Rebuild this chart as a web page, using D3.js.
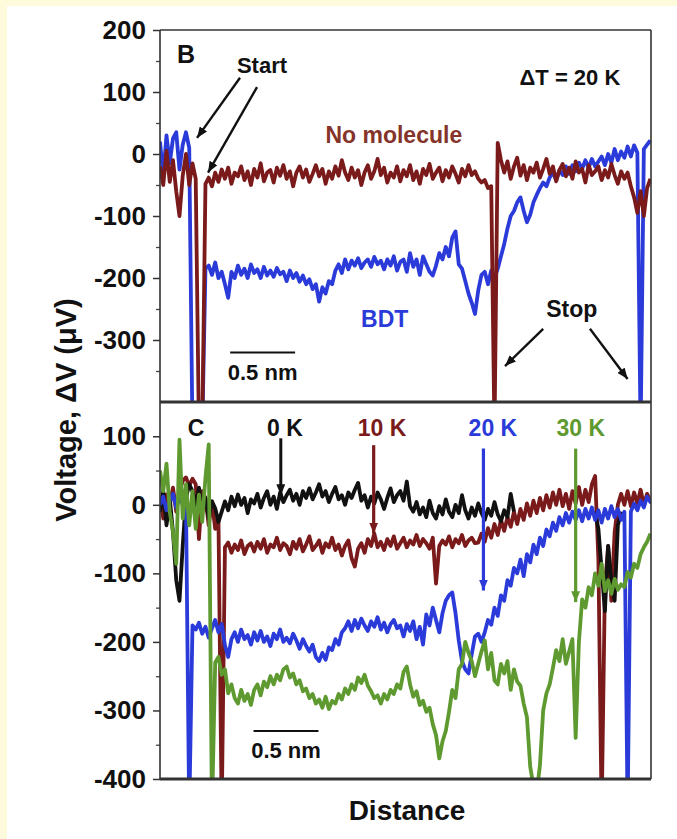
<!DOCTYPE html>
<html>
<head>
<meta charset="utf-8">
<script src="https://cdn.jsdelivr.net/npm/d3@7"></script>
<style>
  body { margin: 0; background: #ffffff; }
  svg { display: block; }
  text { font-family: "Liberation Sans", Arial, Helvetica, sans-serif; font-weight: bold; }
</style>
</head>
<body>
<svg id="chart" width="677" height="839"></svg>
<script>
// Thermoelectric voltage traces vs. tip displacement, sampled every 0.025 nm.
const sampleStep = 0.025; // nm

// Panel B: ΔT = 20 K
const bdtTrace = [
  20, -35, 30, -15, 25, 35, -25, 15, 35, 10,
  -450, -450, -450, -450, -185,
  -180, -195, -175, -200, -190, -210, -232, -190, -200, -180,
  -195, -185, -200, -178, -192, -186, -200, -182, -196, -188,
  -198, -184, -194, -190, -205, -188, -200, -192, -206, -196,
  -210, -202, -218, -210, -238, -215, -225, -205, -210, -188,
  -178, -192, -170, -186, -172, -180, -168, -184, -175, -170,
  -182, -166, -178, -172, -186, -170, -180, -165, -188, -174,
  -170, -190, -160, -182, -170, -195, -165, -178, -190, -196,
  -180, -160, -170, -150, -165, -135, -125, -178, -185, -205,
  -225, -240, -258, -220, -195, -190, -210, -188,
  -200, -185, -165, -145, -120, -100, -92, -78, -70, -92,
  -110, -98, -78, -66, -55, -46, -52, -38, -30, -42,
  -26, -34, -20, -32, -18, -28, -14, -24, -10, -22,
  -8, -20, -12, -4, -18, 0, -14, 8, -10, 4,
  -6, 12, -4, 14, 2,
  -450, 8, 15, 22
];
const noMoleculeTrace = [
  -20, -50, 5, -45, -10, -60, -100, -35, 0, -50, -15, -40,
  -450, -450, -48,
  -38, -52, -30, -45, -25, -40, -22, -48, -30, -36,
  -20, -42, -28, -50, -24, -38, -15, -44, -30, -26,
  -46, -22, -35, -18, -40, -28, -52, -30, -20, -38,
  -25, -45, -32, -18, -36, -24, -48, -28, -40, -20,
  -35, -10, -30, -42, -22, -38, -26, -50, -30, -18,
  -40, -28, -8, -34, -22, -46, -30, -38, -20, -44,
  -26, -36, -18, -42, -28, -48, -24, -34, -16, -40,
  -30, -22, -44, -26, -38, -20, -32, -46, -24, -36,
  -18, -34, -28, -40, -46, -42, -55, -52,
  -450, 18,
  -10, -30, -12, -40, -20, -6, -35, -18, -42, -22,
  -30, -14, -38, -24, -8, -32, -20, -44, -26, -16,
  -36, -22, -40, -12, -30, -24, -46, -18, -34, -28,
  -20, -42, -26, -38, -16, -34, -48, -28, -40, -30,
  -52, -70, -95, -60, -100, -55, -40
];

// Panel C: BDT at several temperature differences
const trace0K = [
  -10, 20, -30, 10, -40, -110, -140, -60, 10, 30,
  20, 0, 25, -10, 10, -20, 5, -5, -25, -10,
  5, -8, 12, -2, 15, 0, 10, -12, 8, 2,
  16, -4, 10, 20, 0, 12, -6, 18, 4, 14,
  22, 6, 16, 0, 20, 10, 24, 8, 18, 30,
  12, 20, 4, 16, 26, 8, 14, 0, 18, 10,
  22, 32, 6, 14, -4, 12, 2, 18, 8, -6,
  10, 24, 4, 14, 20, 6, 34, -2, -10, 4,
  -14, -4, -18, 6, -12, -20, -2, -14, 8, -10,
  -18, 0, -12, 14, -8, -20, -4, -16, 2, -12,
  -22, -6, -16, 4, -14, -24, -8, -18, 16, -10,
  null, null, null, null, null, null, null, null, null, null,
  null, null, null, null, null, null, null, null, null, null,
  null, null, null, null,
  -10, -35, -95, -155, -60, -110, -140, -30, -10
];
const trace10K = [
  10, -20, 15, 0, 25, -10, 20, 35, 40, 28,
  38, 30, -50, 20, 10, -30, 5, -35,
  -20, -450,
  -62, -55, -70, -58, -66, -52, -72, -60, -56, -68,
  -54, -64, -50, -70, -58, -62, -48, -66, -56, -60,
  -72, -54, -64, -50, -68, -58, -46, -66, -60, -52,
  -70, -56, -62, -48, -66, -58, -74, -60, -52, -78,
  -90, -64, -56, -70, -50, -60, -42, -62, -54, -66,
  -50, -60, -46, -64, -56, -48, -62, -52, -58, -44,
  -60, -50, -56, -64, -48, -115, -60, -52, -58, -46,
  -62, -50, -56, -44, -60, -52, -48, -56, -55, -42,
  -54, -34, -48, -28, -44, -22, -38, -18, -32, -10,
  -28, -6, -22, 2, -16, 6, -12, 10, -8, 14,
  -4, 18, 0, 22, -2, 16, -6, 20, 2, 26,
  0, 22, 4, 30, 42, -80,
  -450,
  -120, -60, -140, -40, 0, 16, 0, 20, -2, 18, 2, 22, 0, 16, 6
];
const trace20K = [
  0, 12, -8, 6, 16, -4, 10, 2, 4,
  -450,
  -176, -182, -172, -188, -178, -194, -180, -168, -186, -174,
  -205, -222, -196, -186, -200, -182, -196, -190, -204, -186,
  -198, -184, -200, -192, -206, -188, -196, -182, -200, -194,
  -202, -188, -198, -210, -196, -206, -214, -204, -222, -228,
  -216, -226, -208, -212, -196, -204, -186, -180, -170, -184,
  -168, -180, -166, -176, -184, -170, -178, -164, -182, -172,
  -186, -174, -168, -180, -176, -192, -174, -184, -170, -196,
  -178, -204, -160, -176, -150, -168, -186, -158, -140, -132,
  -128, -158, -198, -228, -240, -246, -218, -192, -188, -200,
  -186, -168, -175, -150, -162, -132, -140, -110, -118, -92,
  -100, -80, -104, -72, -84, -58, -72, -48, -60, -36,
  -46, -26, -38, -18, -30, -12, -26, -10, -22, -8,
  -24, -6, -20, -4, -22, -8, -26, -6, -20, -2,
  -18, -6, -22, -10,
  -450,
  -10, 2, -8, 6, -4, 12, 4, 10
];
const trace30K = [
  50, 20, 60, -10, -40, -86, 95, -20, 30, -30,
  20, -35, 15, -25, 40,
  88, -450, -230,
  -222, -248, -240, -275, -262, -282, -290, -270, -286, -276,
  -292, -270, -262, -278, -258, -266, -250, -262, -248, -256,
  -240, -236, -252, -246, -262, -256, -272, -268, -282, -276,
  -290, -284, -296, -280, -298, -286, -290, -276, -284, -268,
  -276, -262, -270, -252, -260, -248, -264, -272, -282, -278,
  -290, -276, -284, -270, -276, -262, -268, -244, -236, -262,
  -280, -272, -292, -286, -302, -296, -320, -336, -370, -345,
  -330, -302, -270, -282, -240, -232, -200, -216, -228, -250,
  -232, -214, -198, -240, -216, -256, -262, -232, -246, -228,
  -270, -240, -258, -264, -290, -310, -382, -410, -420, -380,
  -300, -275, -262, -238, -212, -228, -196, -232, -214, -196,
  -340,
  -200, -138, -150, -120, -132, -100, -118, -86, -126, -110,
  -130, -108, -124, -116, -120, -98, -106, -86, -92, -72, -62, -54, -42
];

const topMajorTicks = [200, 100, 0, -100, -200, -300];
const topMinorTicks = [150, 50, -50, -150, -250, -350];
const bottomMajorTicks = [100, 0, -100, -200, -300, -400];
const bottomMinorTicks = [50, -50, -150, -250, -350];

const colors = {
  black: "#111111",
  maroon: "#7a1a1a",
  maroonText: "#85342a",
  blue: "#2b3bd9",
  green: "#5e9a30"
};

const svg = d3.select("#chart");

// page frame
svg.append("rect").attr("x", 0).attr("y", 0).attr("width", 677).attr("height", 839).attr("fill", "#fdfbdc");
svg.append("rect").attr("x", 7).attr("y", 6).attr("width", 670).attr("height", 833).attr("fill", "#ffffff");

const x = d3.scaleLinear().domain([0, 3.78]).range([160, 651]);
const yTop = d3.scaleLinear().domain([-400, 200]).range([402, 30]);
const yBot = d3.scaleLinear().domain([-400, 150]).range([779, 402]);

const defs = svg.append("defs");
defs.append("clipPath").attr("id", "clipTop")
  .append("rect").attr("x", 160).attr("y", 30).attr("width", 491).attr("height", 372);
defs.append("clipPath").attr("id", "clipBot")
  .append("rect").attr("x", 160).attr("y", 402).attr("width", 491).attr("height", 377);

function arrowMarker(id, color, len, wid) {
  defs.append("marker").attr("id", id)
    .attr("viewBox", `0 0 ${len} ${wid}`)
    .attr("refX", len).attr("refY", wid / 2)
    .attr("markerWidth", len).attr("markerHeight", wid)
    .attr("markerUnits", "userSpaceOnUse")
    .attr("orient", "auto")
    .append("path").attr("d", `M0,0L${len},${wid / 2}L0,${wid}Z`).attr("fill", color);
}
arrowMarker("arrBlack", colors.black, 11, 9);
arrowMarker("arrMaroon", colors.maroon, 11, 9);
arrowMarker("arrBlue", colors.blue, 11, 9);
arrowMarker("arrGreen", colors.green, 11, 9);

function drawTrace(g, values, yScale, color, width) {
  const line = d3.line()
    .defined(d => d != null)
    .x((d, i) => x(i * sampleStep))
    .y(d => yScale(d));
  g.append("path")
    .datum(values)
    .attr("d", line)
    .attr("fill", "none")
    .attr("stroke", color)
    .attr("stroke-width", width)
    .attr("stroke-linejoin", "round");
}

// traces
const traceWidth = 3.8;
const gTop = svg.append("g").attr("clip-path", "url(#clipTop)");
drawTrace(gTop, bdtTrace, yTop, colors.blue, traceWidth);
drawTrace(gTop, noMoleculeTrace, yTop, colors.maroon, traceWidth);

const gBot = svg.append("g").attr("clip-path", "url(#clipBot)");
drawTrace(gBot, trace10K, yBot, colors.maroon, traceWidth);
drawTrace(gBot, trace0K, yBot, colors.black, traceWidth);
drawTrace(gBot, trace20K, yBot, colors.blue, traceWidth);
drawTrace(gBot, trace30K, yBot, colors.green, traceWidth);

// axes
const fmt = d => String(d);
function yAxis(scale, major, minor) {
  const gMaj = svg.append("g").attr("transform", "translate(160,0)")
    .call(d3.axisLeft(scale).tickValues(major).tickSize(7).tickPadding(7).tickFormat(fmt));
  gMaj.select(".domain").remove();
  gMaj.selectAll("line").attr("stroke", "#333").attr("stroke-width", 1.5);
  gMaj.selectAll("text").attr("font-size", 26).attr("fill", "#111");
  const gMin = svg.append("g").attr("transform", "translate(160,0)")
    .call(d3.axisLeft(scale).tickValues(minor).tickSize(4).tickFormat(""));
  gMin.select(".domain").remove();
  gMin.selectAll("line").attr("stroke", "#444").attr("stroke-width", 1.3);
}
yAxis(yTop, topMajorTicks, topMinorTicks);
yAxis(yBot, bottomMajorTicks, bottomMinorTicks);

// panel frames
const frame = svg.append("g").attr("fill", "none").attr("stroke", "#333");
frame.append("line").attr("x1", 160).attr("x2", 160).attr("y1", 30).attr("y2", 779).attr("stroke-width", 1.6);
frame.append("line").attr("x1", 651).attr("x2", 651).attr("y1", 30).attr("y2", 779).attr("stroke-width", 1.6);
frame.append("line").attr("x1", 160).attr("x2", 651).attr("y1", yTop(200)).attr("y2", yTop(200)).attr("stroke-width", 1.6);
frame.append("line").attr("x1", 160).attr("x2", 651).attr("y1", yTop(-400)).attr("y2", yTop(-400)).attr("stroke-width", 2.8);
frame.append("line").attr("x1", 160).attr("x2", 651).attr("y1", yBot(-400)).attr("y2", yBot(-400)).attr("stroke-width", 3);

// annotations
function label(txt, xv, yv, yScale, size, color) {
  svg.append("text")
    .attr("x", x(xv)).attr("y", yScale(yv))
    .attr("text-anchor", "middle").attr("dominant-baseline", "central")
    .attr("font-size", size).attr("fill", color).text(txt);
}
function arrow(x1, y1, x2, y2, yScale, color, marker, width) {
  svg.append("line")
    .attr("x1", x(x1)).attr("y1", yScale(y1))
    .attr("x2", x(x2)).attr("y2", yScale(y2))
    .attr("stroke", color).attr("stroke-width", width)
    .attr("marker-end", `url(#${marker})`);
}
function scaleBar(x0, len, yv, yScale) {
  svg.append("line")
    .attr("x1", x(x0)).attr("x2", x(x0 + len))
    .attr("y1", yScale(yv)).attr("y2", yScale(yv))
    .attr("stroke", colors.black).attr("stroke-width", 2);
}

// panel B
label("B", 0.2, 161, yTop, 25, colors.black);
label("Start", 0.785, 142, yTop, 22, colors.black);
label("\u0394T = 20 K", 3.156, 124, yTop, 22, colors.black);
label("No molecule", 1.80, 31, yTop, 23, colors.maroonText);
label("BDT", 1.73, -266, yTop, 23, colors.blue);
label("Stop", 3.17, -250, yTop, 23, colors.black);
arrow(0.616, 123, 0.285, 26, yTop, colors.black, "arrBlack", 2.4);
arrow(0.747, 108, 0.37, -30, yTop, colors.black, "arrBlack", 2.4);
arrow(2.95, -282, 2.656, -342, yTop, colors.black, "arrBlack", 2.4);
arrow(3.31, -282, 3.60, -363, yTop, colors.black, "arrBlack", 2.4);
scaleBar(0.54, 0.5, -320, yTop);
label("0.5 nm", 0.79, -352, yTop, 22, colors.black);

// panel C
label("C", 0.277, 112, yBot, 23, colors.black);
label("0 K", 0.962, 112, yBot, 23, colors.black);
label("10 K", 1.709, 112, yBot, 23, colors.maroon);
label("20 K", 2.563, 112, yBot, 23, colors.blue);
label("30 K", 3.24, 112, yBot, 23, colors.green);
arrow(0.93, 97, 0.93, 14, yBot, colors.black, "arrBlack", 3);
arrow(1.645, 87, 1.645, -42, yBot, colors.maroon, "arrMaroon", 3.2);
arrow(2.49, 82, 2.49, -125, yBot, colors.blue, "arrBlue", 3.2);
arrow(3.2, 82, 3.2, -142, yBot, colors.green, "arrGreen", 3.2);
scaleBar(0.72, 0.5, -330, yBot);
label("0.5 nm", 0.97, -358, yBot, 22, colors.black);

// axis titles
svg.append("text")
  .attr("transform", "translate(66,410) rotate(-90)")
  .attr("text-anchor", "middle").attr("dominant-baseline", "central")
  .attr("font-size", 29).attr("fill", "#111")
  .text("Voltage, \u0394V (\u03bcV)");
svg.append("text")
  .attr("x", 407).attr("y", 810)
  .attr("text-anchor", "middle").attr("dominant-baseline", "central")
  .attr("font-size", 28).attr("fill", "#111")
  .text("Distance");
</script>
</body>
</html>
